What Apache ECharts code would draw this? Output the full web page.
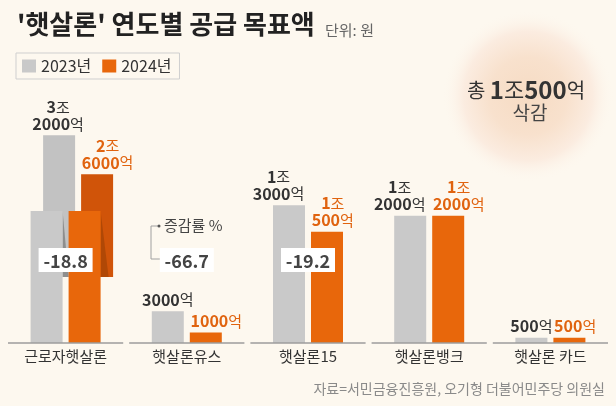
<!DOCTYPE html>
<html>
<head>
<meta charset="utf-8">
<script src="https://cdn.jsdelivr.net/npm/echarts@6/dist/echarts.min.js"></script>
<style>
  html, body { margin: 0; padding: 0; background: #fdf8ef; }
  #chart { width: 616px; height: 406px; }
</style>
</head>
<body>
<div id="chart"></div>
<script>
// 단위: 억원
const categories = ['근로자햇살론', '햇살론유스', '햇살론15', '햇살론뱅크', '햇살론 카드'];
const amt2023 = [32000, 3000, 13000, 12000, 500];
const amt2024 = [26000, 1000, 10500, 12000, 500];
const changePct = [-18.8, -66.7, -19.2, null, null];

const FONT = "'Noto Sans CJK KR', 'Noto Sans', sans-serif";
const GRAY = '#c9c9c9';
const ORANGE = '#e8670b';
const mainMax = 30000;   // 일반 막대 축
const foldMax = 49000;   // 접힌(큰 값) 막대 축
const barW = 32, barGap = 6;

// 3조 2000억 형식
function amountRich(v) {
  const jo = Math.floor(v / 10000), eok = v % 10000;
  if (jo === 0) return `{n|${eok}}{u|억}`;
  if (eok === 0) return `{n|${jo}}{u|조}`;
  return `{n|${jo}}{u|조}\n{n|${eok}}{u|억}`;
}
// 라벨 폭 대충 계산 (숫자 9.5px + 억 15px)
function labelWidth(v) {
  return String(v % 10000 || Math.floor(v / 10000)).length * 9.5 + 15;
}
function richOf(color) {
  return {
    n: { fontSize: 16, fontWeight: 'bold', lineHeight: 17, color: color, fill: color, fontFamily: FONT },
    u: { fontSize: 15, lineHeight: 17, color: color, fill: color, fontFamily: FONT }
  };
}

const chart = echarts.init(document.getElementById('chart'));

// 축 최대값을 넘는 항목은 접힌 막대로 따로 그림
const isFold = i => amt2023[i] > mainMax || amt2024[i] > mainMax;
const foldData = [];
categories.forEach((c, i) => {
  if (isFold(i)) foldData.push([i, amt2023[i], amt2024[i]]);
});

function renderFold(params, api) {
  const idx = api.value(0);
  const base = api.coord([idx, 0]);
  const cx = base[0], by = base[1];
  const v23 = api.value(1), v24 = api.value(2);
  const top23 = api.coord([idx, v23])[1];
  const top24 = api.coord([idx, v24])[1];
  const foldTop = by - 132, foldBot = by - 66, shift = 12.5;
  const gx = cx - barGap / 2 - barW, ox = cx + barGap / 2;
  return {
    type: 'group',
    children: [
      { type: 'rect', shape: { x: gx + shift, y: top23, width: barW, height: foldBot - top23 }, style: { fill: '#c2c2c2' } },
      { type: 'rect', shape: { x: ox + shift, y: top24, width: barW, height: foldBot - top24 }, style: { fill: '#d05409' } },
      { type: 'polygon', shape: { points: [[gx + barW, foldTop], [gx + barW + 6, foldBot], [gx + barW, foldBot]] }, style: { fill: '#8e8e8e' } },
      { type: 'polygon', shape: { points: [[ox + barW, foldTop], [ox + barW + 8, foldBot], [ox + barW, foldBot]] }, style: { fill: '#b04806' } },
      { type: 'rect', shape: { x: gx, y: foldTop, width: barW, height: by - foldTop }, style: { fill: GRAY } },
      { type: 'rect', shape: { x: ox, y: foldTop, width: barW, height: by - foldTop }, style: { fill: ORANGE } },
      { type: 'text', style: { text: amountRich(v23), x: gx + shift + barW / 2 - 1, y: top23 - 3, align: 'center', verticalAlign: 'bottom', rich: richOf('#333') } },
      { type: 'text', style: { text: amountRich(v24), x: ox + shift + labelWidth(v24) / 2, y: top24 - 3, align: 'center', verticalAlign: 'bottom', rich: richOf('#e0630f') } }
    ]
  };
}

function renderPct(params, api) {
  const idx = api.value(0);
  const p = api.coord([idx, 0]);
  const cy = p[1] - 83;
  return {
    type: 'group',
    children: [
      { type: 'rect', shape: { x: p[0] - 27, y: cy - 12, width: 54, height: 24 }, style: { fill: '#ffffff' } },
      { type: 'text', style: { text: String(api.value(1)), x: p[0], y: cy + 1, align: 'center', verticalAlign: 'middle', fill: '#444', font: 'bold 18px ' + FONT } }
    ]
  };
}

function renderBase(params, api) {
  const idx = api.value(0);
  const p = api.coord([idx, 0]);
  const band = api.size([1, 0])[0];
  return {
    type: 'line',
    shape: { x1: p[0] - band / 2 + 3, y1: p[1], x2: p[0] + band / 2 - 3, y2: p[1] },
    style: { stroke: '#9c9c9c', lineWidth: 1.5 }
  };
}

// 2023 라벨: 큰 값은 막대 오른쪽 끝에 맞춤, 2024 라벨: 막대 왼쪽 끝에 맞춤
const bar23 = amt2023.map((v, i) => isFold(i) ? null : {
  value: v,
  label: { offset: [v >= 10000 ? -(labelWidth(v) - barW) / 2 : 0, 0] }
});
const bar24 = amt2024.map((v, i) => isFold(i) ? null : {
  value: v,
  label: { offset: [Math.max(0, (labelWidth(v) - barW) / 2), 0] }
});

const option = {
  backgroundColor: '#fdf8ef',
  animation: false,
  textStyle: { fontFamily: FONT },
  grid: { left: 5, right: 5, top: 25, bottom: 63 },
  legend: {
    data: ['2023년', '2024년'],
    left: 16, top: 53,
    padding: [5, 8, 5, 6],
    borderColor: '#cfcfcf', borderWidth: 1,
    icon: 'rect', itemWidth: 14, itemHeight: 13, itemGap: 11,
    textStyle: { fontSize: 16, color: '#333', fontFamily: FONT }
  },
  xAxis: {
    type: 'category',
    data: categories,
    axisLine: { show: false },
    axisTick: { show: false },
    axisLabel: { fontSize: 15, color: '#333', margin: 6, fontFamily: FONT }
  },
  yAxis: [
    { type: 'value', min: 0, max: mainMax, show: false },
    { type: 'value', min: 0, max: foldMax, show: false }
  ],
  graphic: [
    {
      type: 'circle', z: -10,
      shape: { cx: 528, cy: 96, r: 86 },
      style: {
        fill: new echarts.graphic.RadialGradient(0.5, 0.5, 0.5, [
          { offset: 0, color: '#f6dbc3' },
          { offset: 0.45, color: '#f8e1cd' },
          { offset: 0.75, color: '#fbece0' },
          { offset: 1, color: 'rgba(253,248,239,0)' }
        ])
      }
    },
    {
      type: 'text', left: 17, top: 11,
      style: { text: "'햇살론' 연도별 공급 목표액", font: 'bold 26px ' + FONT, fill: '#222' }
    },
    {
      type: 'text', left: 325, top: 23,
      style: { text: '단위: 원', font: '15px ' + FONT, fill: '#666' }
    },
    {
      type: 'text', x: 526, y: 90,
      style: {
        text: '{t|총 }{n|1}{j|조}{n|500}{t|억}',
        align: 'center', verticalAlign: 'middle',
        rich: {
          t: { fontSize: 20, fill: '#333', fontFamily: FONT },
          j: { fontSize: 22, fill: '#333', fontFamily: FONT },
          n: { fontSize: 24, fontWeight: 'bold', fill: '#333', fontFamily: FONT }
        }
      }
    },
    {
      type: 'text', x: 530, y: 113,
      style: { text: '삭감', align: 'center', verticalAlign: 'middle', font: '19px ' + FONT, fill: '#444' }
    },
    {
      type: 'polyline',
      shape: { points: [[159, 226], [151, 226], [151, 259], [161, 259]] },
      style: { stroke: '#a0a0a0', lineWidth: 1, fill: null }
    },
    {
      type: 'circle', shape: { cx: 159, cy: 226, r: 1.5 }, style: { fill: '#555' }
    },
    {
      type: 'text', left: 164, top: 218,
      style: { text: '증감률 %', font: '15px ' + FONT, fill: '#444' }
    },
    {
      type: 'text', right: 11, top: 382,
      style: { text: '자료=서민금융진흥원, 오기형 더불어민주당 의원실', font: '14px ' + FONT, fill: '#8a8a8a' }
    }
  ],
  series: [
    {
      name: '2023년', type: 'bar', yAxisIndex: 0,
      data: bar23,
      barWidth: barW, barGap: (barGap / barW * 100) + '%',
      itemStyle: { color: GRAY },
      label: {
        show: true, position: 'top', distance: 3,
        formatter: p => amountRich(p.value), rich: richOf('#333')
      }
    },
    {
      name: '2024년', type: 'bar', yAxisIndex: 0,
      data: bar24,
      barWidth: barW,
      itemStyle: { color: ORANGE },
      label: {
        show: true, position: 'top', distance: 3,
        formatter: p => amountRich(p.value), rich: richOf('#e0630f')
      }
    },
    {
      name: 'fold', type: 'custom', yAxisIndex: 1,
      data: foldData,
      encode: { x: 0, y: [1, 2] },
      renderItem: renderFold, z: 3
    },
    {
      name: 'base', type: 'custom', yAxisIndex: 0,
      data: categories.map((c, i) => [i, 0]),
      encode: { x: 0, y: 1 },
      renderItem: renderBase, z: 4
    },
    {
      name: 'pct', type: 'custom', yAxisIndex: 0,
      data: changePct.map((p, i) => [i, p]).filter(d => d[1] !== null),
      encode: { x: 0, y: 1 },
      renderItem: renderPct, z: 10
    }
  ]
};

chart.setOption(option);
</script>
</body>
</html>
